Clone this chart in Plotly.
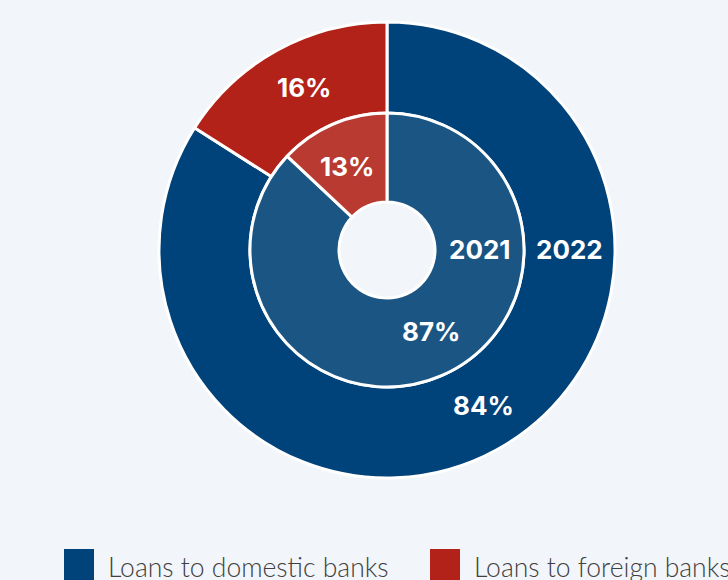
import math
import plotly.graph_objects as go

# Loan shares by counterparty, two years
categories = ["Loans to domestic banks", "Loans to foreign banks"]
years = ["2021", "2022"]
share_2021 = [87, 13]
share_2022 = [84, 16]

outer_colors = ["#00427a", "#b22218"]
inner_colors = ["#1b5584", "#b83a31"]
bg = "#f2f5f9"

W, H = 728, 580
cx, cy = 387, 250            # ring centre in pixels (from top-left)
r_outer, r_mid, r_hole = 228, 137, 48


def dom(r):
    return dict(x=[(cx - r) / W, (cx + r) / W],
                y=[(H - cy - r) / H, (H - cy + r) / H])


fig = go.Figure()
fig.add_trace(go.Pie(
    labels=categories, values=share_2022, domain=dom(r_outer),
    hole=r_mid / r_outer, sort=False, direction="clockwise", rotation=0,
    marker=dict(colors=outer_colors, line=dict(color="white", width=3)),
    textinfo="none", hoverinfo="label+percent", showlegend=False,
))
fig.add_trace(go.Pie(
    labels=categories, values=share_2021, domain=dom(r_mid),
    hole=r_hole / r_mid, sort=False, direction="clockwise", rotation=0,
    marker=dict(colors=inner_colors, line=dict(color="white", width=3)),
    textinfo="none", hoverinfo="label+percent", showlegend=False,
))

label_font = dict(family="Inter, Lato, sans-serif", size=26, color="white", weight="bold")


def slice_labels(values, r_in, r_out, shift_deg):
    total = sum(values)
    start = 0.0
    rr = (r_in + r_out) / 2
    for v, sd in zip(values, shift_deg):
        mid = (start + v / 2) / total * 2 * math.pi + math.radians(sd)
        start += v
        px = cx + rr * math.sin(mid)
        py = cy - rr * math.cos(mid)
        fig.add_annotation(x=px / W, y=1 - py / H, xref="paper", yref="paper",
                           text=f"{v}%", showarrow=False, font=label_font,
                           xanchor="center", yanchor="middle")


slice_labels(share_2022, r_mid, r_outer, [-3, 2])
slice_labels(share_2021, r_hole, r_mid, [-5, -2])

# Year labels on the right side of each ring
for yr, (a, b) in zip(years, [(r_hole, r_mid), (r_mid, r_outer)]):
    px = cx + (a + b) / 2
    fig.add_annotation(x=px / W, y=1 - cy / H, xref="paper", yref="paper",
                       text=yr, showarrow=False, font=label_font,
                       xanchor="center", yanchor="middle")

# Legend drawn as large swatches with labels
legend_x = [64, 430]
for name, col, lx in zip(categories, outer_colors, legend_x):
    fig.add_shape(type="rect", xref="paper", yref="paper",
                  x0=lx / W, x1=(lx + 30) / W, y0=-10 / H, y1=(H - 549) / H,
                  fillcolor=col, line=dict(width=0))
    fig.add_annotation(x=(lx + 42) / W, y=(H - 567) / H, xref="paper", yref="paper",
                       text=name, showarrow=False, xanchor="left", yanchor="middle",
                       font=dict(family="Lato, Open Sans, sans-serif", size=26.5,
                                 color="#404040", weight=300))

fig.update_layout(
    width=W, height=H, margin=dict(l=0, r=0, t=0, b=0),
    paper_bgcolor=bg, plot_bgcolor=bg,
)

fig.write_html("out.html")
